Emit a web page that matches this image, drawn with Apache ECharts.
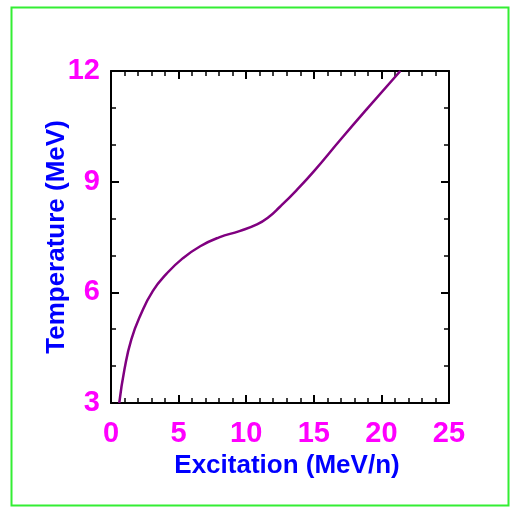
<!DOCTYPE html>
<html>
<head>
<meta charset="utf-8">
<script src="https://cdn.jsdelivr.net/npm/echarts@6/dist/echarts.min.js"></script>
<style>
html,body{margin:0;padding:0;background:#fff;}
#c{width:510px;height:512px;}
</style>
</head>
<body>
<div id="c"></div>
<script>
var excitation = [0.61, 1.0, 1.5, 2.2, 3.1, 4.1, 5.3, 6.6, 8.0, 9.5, 10.8, 11.6, 12.5, 13.7, 15.0, 17.0, 19.0, 21.4];
var temperature = [3.0, 3.92, 4.72, 5.40, 6.04, 6.50, 6.92, 7.25, 7.49, 7.66, 7.84, 8.02, 8.32, 8.76, 9.28, 10.15, 11.0, 12.0];
var xTicks = [0, 5, 10, 15, 20, 25];
var yTicks = [3, 6, 9, 12];

var data = excitation.map(function (e, i) { return [e, temperature[i]]; });
var chart = echarts.init(document.getElementById('c'));
var font = 'Liberation Sans, Arial, sans-serif';
var xMin = xTicks[0], xMax = xTicks[xTicks.length - 1];
var yMin = yTicks[0], yMax = yTicks[yTicks.length - 1];
var axisLine = { show: true, onZero: false, lineStyle: { color: '#000', width: 2 } };
var noLine = { show: false, onZero: false };
var majorTick = { show: true, inside: true, length: 8, lineStyle: { color: '#000', width: 2 } };
var minorTick = { show: true, inside: true, length: 5, lineStyle: { color: '#000', width: 1.5 } };
var gridRect = { left: 111, right: 61, top: 71, bottom: 109 };

function plainAxis(pos, min, max, interval, gridIndex, tick, line) {
  return {
    type: 'value', gridIndex: gridIndex, min: min, max: max, interval: interval, position: pos,
    axisLine: line ? axisLine : noLine, axisTick: tick,
    splitLine: { show: false }, axisLabel: { show: false }
  };
}

chart.setOption({
  backgroundColor: '#fff',
  animation: false,
  grid: [
    Object.assign({}, gridRect),
    Object.assign({}, gridRect)
  ],
  xAxis: [{
    type: 'value', gridIndex: 0, min: xMin, max: xMax, interval: 5,
    position: 'bottom',
    name: 'Excitation (MeV/n)', nameLocation: 'middle', nameGap: 49,
    nameTextStyle: { color: '#0000ff', fontSize: 26, fontWeight: 'bold', fontFamily: font, padding: [0, 0, 0, 14] },
    axisLine: axisLine, axisTick: majorTick,
    splitLine: { show: false },
    axisLabel: { color: '#ff00ff', fontSize: 29, fontWeight: 'bold', fontFamily: font, margin: 16 }
  },
    plainAxis('top', xMin, xMax, 5, 0, majorTick, true),
    plainAxis('bottom', xMin, xMax, 1, 1, minorTick, false),
    plainAxis('top', xMin, xMax, 1, 1, minorTick, false)
  ],
  yAxis: [{
    type: 'value', gridIndex: 0, min: yMin, max: yMax, interval: 3,
    position: 'left',
    name: 'Temperature (MeV)', nameLocation: 'middle', nameGap: 41, nameMoveOverlap: false,
    nameTextStyle: { color: '#0000ff', fontSize: 26, fontWeight: 'bold', fontFamily: font },
    axisLine: axisLine, axisTick: majorTick,
    splitLine: { show: false },
    axisLabel: { color: '#ff00ff', fontSize: 29, fontWeight: 'bold', fontFamily: font, margin: 11 }
  },
    plainAxis('right', yMin, yMax, 3, 0, majorTick, true),
    plainAxis('left', yMin, yMax, 1, 1, minorTick, false),
    plainAxis('right', yMin, yMax, 1, 1, minorTick, false)
  ],
  graphic: [{
    type: 'rect', shape: { x: 11.5, y: 7.5, width: 497, height: 498 },
    style: { fill: 'none', stroke: '#33ee33', lineWidth: 2 }, silent: true
  }],
  series: [{
    type: 'line', data: data, smooth: 0.5, showSymbol: false,
    xAxisIndex: 0, yAxisIndex: 0,
    lineStyle: { color: '#800080', width: 2.5 }
  }]
});
</script>
</body>
</html>
